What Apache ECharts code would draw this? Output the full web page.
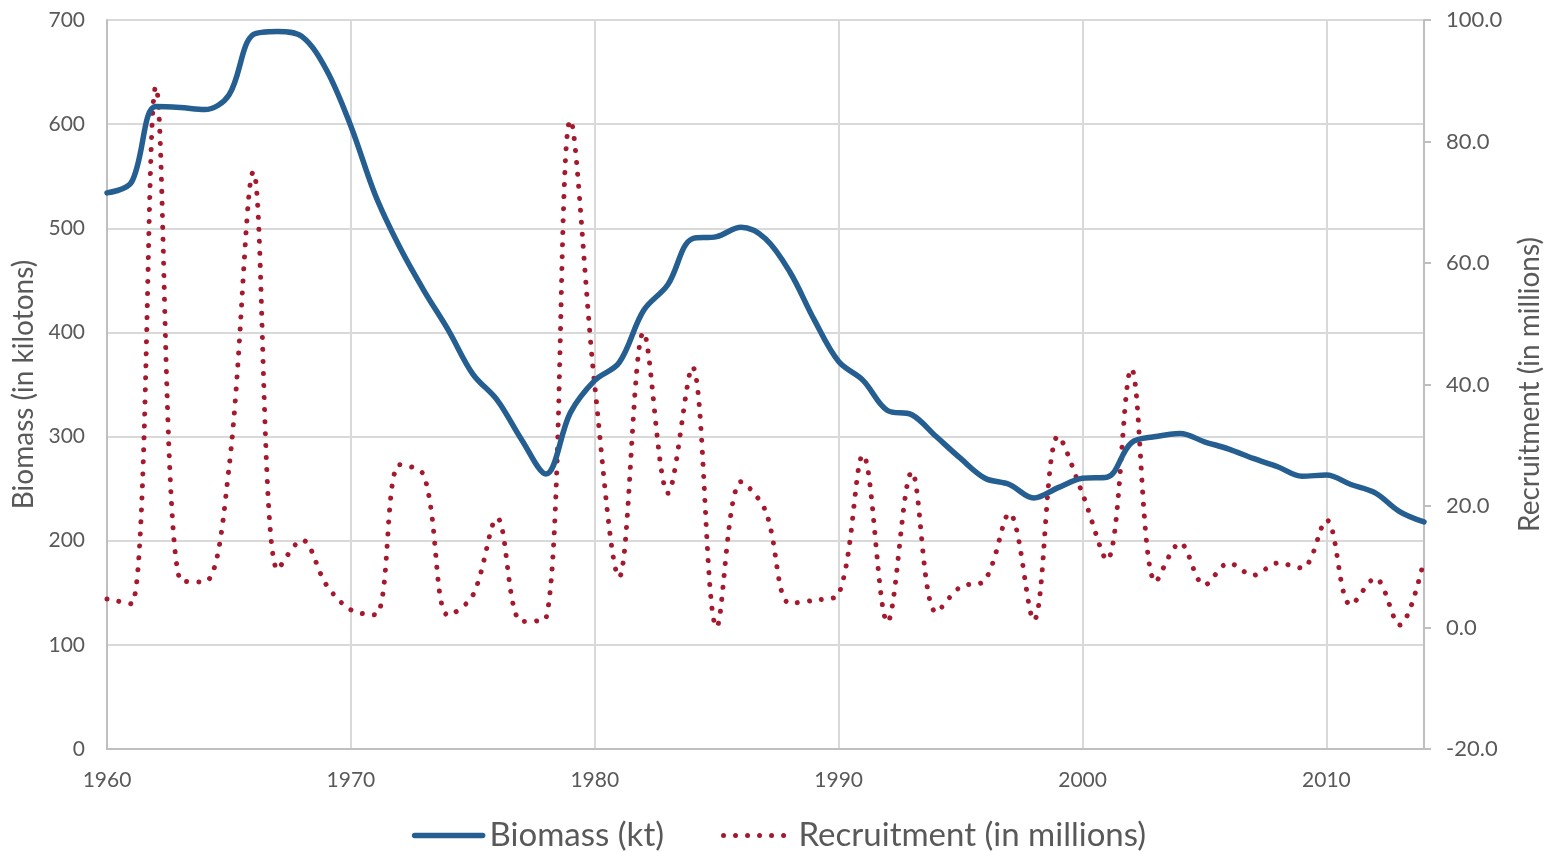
<!DOCTYPE html>
<html>
<head>
<meta charset="utf-8">
<script src="https://cdn.jsdelivr.net/npm/echarts@6/dist/echarts.min.js"></script>
<style>
html,body{margin:0;padding:0;background:#fff;}
#chart{width:1558px;height:852px;}
</style>
</head>
<body>
<div id="chart"></div>
<script>
const years = [1960,1961,1962,1963,1964,1965,1966,1967,1968,1969,1970,1971,1972,1973,1974,1975,1976,1977,1978,1979,1980,1981,1982,1983,1984,1985,1986,1987,1988,1989,1990,1991,1992,1993,1994,1995,1996,1997,1998,1999,2000,2001,2002,2003,2004,2005,2006,2007,2008,2009,2010,2011,2012,2013,2014];
const biomass = [534,544,617,616,614,628,686,689,684,652,598,532,482,440,402,360,335,297,264,323,354,371,421,446,490,492,501,490,458,412,372,354,325,321,300,279,260,254,241,251,260,261,294,300,303,295,288,279,271,262,263,254,246,228,218];
const recruitment = [4.7,3.9,89.0,7.8,7.5,26.2,75.0,9.5,14.4,7.0,2.9,2.1,26.8,25.0,2.0,5.3,18.0,1.0,1.5,83.5,39.8,8.3,48.6,22.1,42.9,0.1,24.0,19.2,4.0,4.5,5.5,28.4,0.9,25.6,2.5,6.7,7.8,18.8,1.2,31.5,22.0,11.1,42.6,7.5,13.9,7.0,10.6,8.6,10.6,9.8,17.7,3.7,8.1,0.4,11.1];
const leftTicks = {min:0, max:700, interval:100};
const rightTicks = {min:-20, max:100, interval:20};
const xTicks = {min:1960, max:2014, interval:10};

const FONT = 'Lato';
const TXT = '#595959';
const BLUE = '#255e91';
const RED = '#a5192e';
const chart = echarts.init(document.getElementById('chart'), null, {renderer:'canvas'});
chart.setOption({
  animation:false,
  backgroundColor:'#ffffff',
  textStyle:{fontFamily:FONT, color:TXT},
  grid:{left:107, right:134, top:20, bottom:103},
  legend:{
    bottom:-5, left:'center', itemWidth:68, itemHeight:20, itemGap:57,
    textStyle:{fontFamily:FONT, fontSize:33, color:TXT, padding:[0,0,0,2]},
    itemStyle:{opacity:0},
    data:[
      {name:'Biomass (kt)', itemStyle:{opacity:0}, lineStyle:{width:5.5, color:BLUE}},
      {name:'Recruitment (in millions)', itemStyle:{opacity:0}, lineStyle:{width:5, color:RED, type:[0.01,12], cap:'round'}}
    ]
  },
  xAxis:{
    type:'value', min:xTicks.min, max:xTicks.max, interval:xTicks.interval,
    axisLine:{show:true, lineStyle:{color:'#bfbfbf', width:2}},
    axisTick:{show:false},
    splitLine:{show:true, lineStyle:{color:'#d9d9d9', width:2}},
    axisLabel:{fontFamily:FONT, fontSize:21, color:TXT, margin:21, showMaxLabel:false,
      formatter:v=>(v % 10 === 0 ? String(v) : '')}
  },
  yAxis:[{
    type:'value', min:leftTicks.min, max:leftTicks.max, interval:leftTicks.interval,
    name:'Biomass (in kilotons)', nameLocation:'middle', nameGap:66, nameRotate:90,
    nameTextStyle:{fontFamily:FONT, fontSize:28, color:TXT},
    axisLine:{show:true, lineStyle:{color:'#bfbfbf', width:2}},
    axisTick:{show:false},
    splitLine:{show:true, lineStyle:{color:'#d9d9d9', width:2}},
    axisLabel:{fontFamily:FONT, fontSize:21, color:TXT, margin:22}
  },{
    type:'value', min:rightTicks.min, max:rightTicks.max, interval:rightTicks.interval,
    position:'right',
    name:'Recruitment (in millions)', nameLocation:'middle', nameGap:92, nameRotate:90,
    nameTextStyle:{fontFamily:FONT, fontSize:28, color:TXT},
    axisLine:{show:true, lineStyle:{color:'#bfbfbf', width:2}},
    axisTick:{show:true, length:7, lineStyle:{color:'#bfbfbf', width:2}},
    splitLine:{show:false},
    axisLabel:{fontFamily:FONT, fontSize:22, color:TXT, margin:22, formatter:v=>v.toFixed(1)}
  }],
  series:[{
    name:'Biomass (kt)', type:'line', yAxisIndex:0, smooth:0.35, symbol:'none',
    data: years.map((y,i)=>[y, biomass[i]]),
    lineStyle:{color:BLUE, width:5.5, cap:'round', join:'round'},
    itemStyle:{color:BLUE}, z:3
  },{
    name:'Recruitment (in millions)', type:'line', yAxisIndex:1, smooth:0.35, symbol:'none',
    data: years.map((y,i)=>[y, recruitment[i]]),
    lineStyle:{color:RED, width:5, type:[0.01,12], cap:'round'},
    itemStyle:{color:RED}, z:2
  }]
});
</script>
</body>
</html>
